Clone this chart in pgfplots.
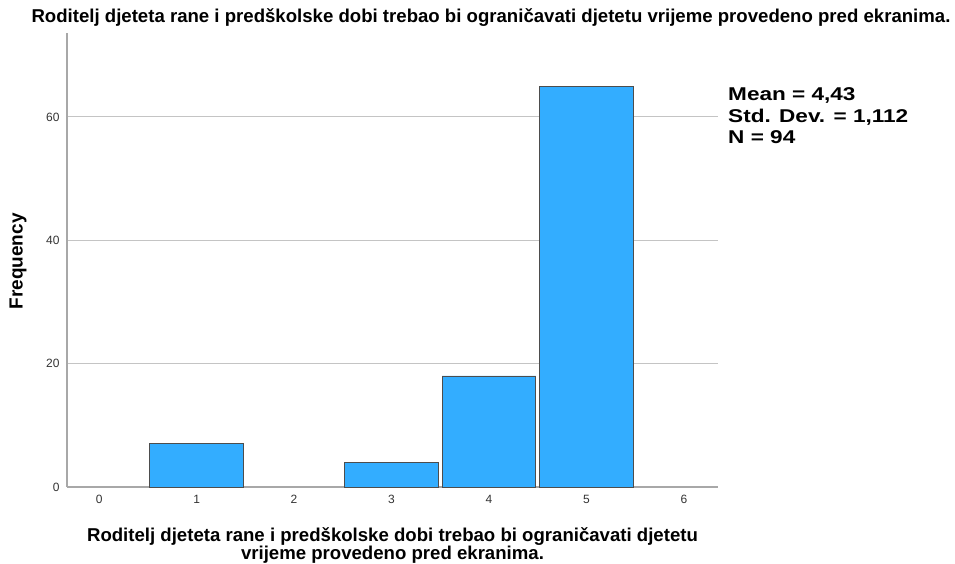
\documentclass[border=0pt]{standalone}
\usepackage{pgfplots}
\pgfplotsset{compat=1.18}
\usepackage{fontspec}
\setmainfont{Liberation Sans}
\definecolor{barblue}{HTML}{33ADFF}
\definecolor{bardark}{HTML}{4D4D4D}
\definecolor{gridgray}{HTML}{C4C4C4}
\definecolor{axisgray}{HTML}{A8A8A8}
\definecolor{ticktext}{HTML}{333333}
\begin{document}
\begin{tikzpicture}[x=1pt,y=1pt]
\path[use as bounding box] (0,0) rectangle (955,564);
\node[anchor=base, inner sep=0pt, font=\bfseries\fontsize{18.6}{20}\selectfont] at (491,541) {Roditelj djeteta rane i predškolske dobi trebao bi ograničavati djetetu vrijeme provedeno pred ekranima.};
\begin{axis}[
  at={(67pt,77pt)}, anchor=south west,
  scale only axis, width=651pt, height=454pt,
  xmin=-0.33, xmax=6.35, ymin=0, ymax=73.6,
  axis x line=bottom, axis y line=left,
  axis line style={axisgray, line width=1.2pt, -},
  major tick length=0pt,
  xtick={0,1,2,3,4,5,6}, ytick={0,20,40,60},
  ymajorgrids, grid style={gridgray, line width=0.9pt},
  tick label style={font=\fontsize{12}{13}\selectfont, text=ticktext},
  /pgf/number format/assume math mode=true,
  xticklabel style={yshift=-5pt},
  yticklabel style={xshift=-4pt},
  xlabel={Roditelj djeteta rane i predškolske dobi trebao bi ograničavati djetetu\\vrijeme provedeno pred ekranima.},
  xlabel style={font=\bfseries\fontsize{18.6}{18}\selectfont, align=center, at={(rel axis cs:0.5,-0.128)}, anchor=center},
  ylabel={Frequency},
  ylabel style={font=\bfseries\fontsize{19}{20}\selectfont, at={(rel axis cs:-0.0753,0.497)}, anchor=center},
  clip=false,
]
\addplot[ybar, bar width=0.96, fill=barblue, draw=bardark, line width=0.7pt] coordinates {(1,7) (3,4) (4,18) (5,65)};
\end{axis}
\node[anchor=base west, inner sep=0pt, font=\bfseries\fontsize{18.5}{21}\selectfont] at (728,463) {\scalebox{1.22}[1]{Mean = 4,43}};
\node[anchor=base west, inner sep=0pt, font=\bfseries\fontsize{18.5}{21}\selectfont] at (728,441) {\scalebox{1.22}[1]{Std. Dev. = 1,112}};
\node[anchor=base west, inner sep=0pt, font=\bfseries\fontsize{18.5}{21}\selectfont] at (728,420) {\scalebox{1.22}[1]{N = 94}};
\end{tikzpicture}
\end{document}
